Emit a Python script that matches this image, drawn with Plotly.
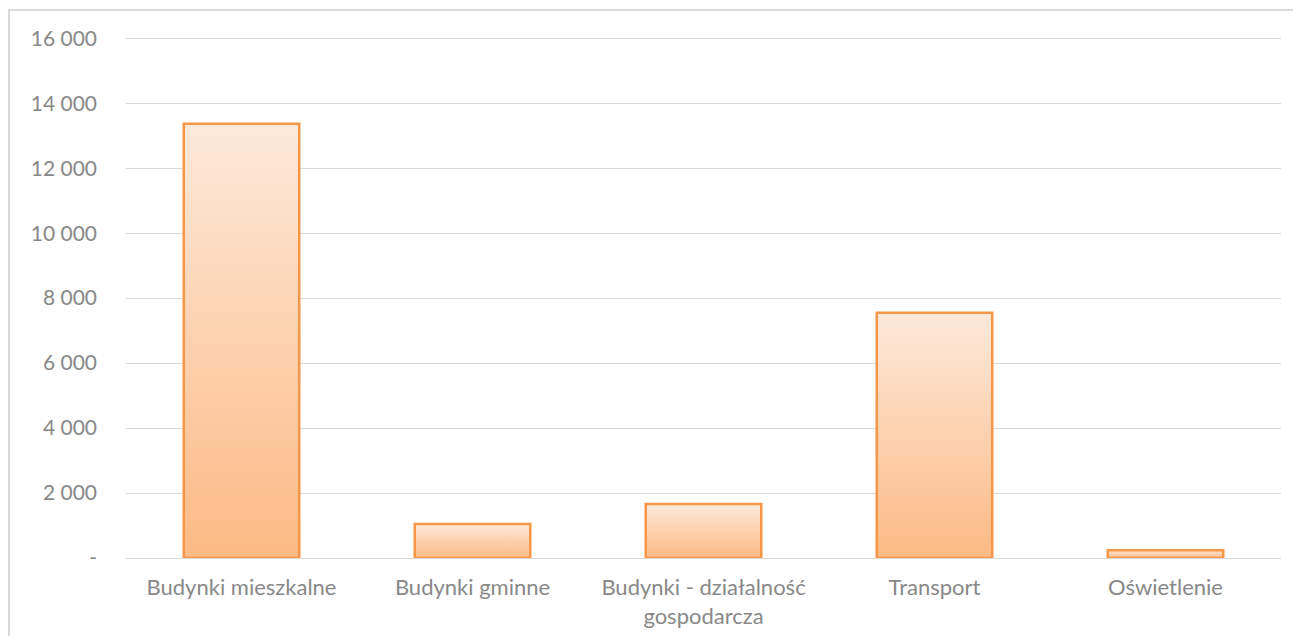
import plotly.graph_objects as go

categories = ["Budynki mieszkalne", "Budynki gminne", "Budynki - działalność<br>gospodarcza", "Transport", "Oświetlenie"]
values = [13370, 1050, 1660, 7550, 240]
tick_vals = [0, 2000, 4000, 6000, 8000, 10000, 12000, 14000, 16000]
tick_text = ["-", "2 000", "4 000", "6 000", "8 000", "10 000", "12 000", "14 000", "16 000"]

half_width = 0.25
fig = go.Figure()
for i, (cat, v) in enumerate(zip(categories, values)):
    xs = [i - half_width, i - half_width, i + half_width, i + half_width, i - half_width]
    ys = [0, v, v, 0, 0]
    fig.add_trace(go.Scatter(
        x=xs, y=ys, mode="lines", fill="toself",
        fillgradient=dict(type="vertical", colorscale=[[0, "#FCBA84"], [1, "#FDE9DA"]]),
        line=dict(color="#F79646", width=2.5),
        name=cat.replace("<br>", " "), showlegend=False,
        hoverinfo="text", text=cat.replace("<br>", " ") + f": {v}",
    ))

fig.update_layout(
    width=1285, height=628,
    margin=dict(l=118, r=12, t=27, b=78, autoexpand=False),
    paper_bgcolor="white", plot_bgcolor="white",
    font=dict(family="Lato", size=21, color="#888888"),
    xaxis=dict(
        range=[-0.5, len(categories) - 0.5],
        tickvals=list(range(len(categories))), ticktext=categories,
        showgrid=False, zeroline=False, showline=False, ticks="",
        ticklabelstandoff=14, automargin=False,
        tickfont=dict(family="Lato", size=22, color="#888888"),
    ),
    yaxis=dict(
        range=[0, 16100], tickvals=tick_vals, ticktext=tick_text,
        showgrid=True, gridcolor="#D9D9D9", gridwidth=1,
        zeroline=True, zerolinecolor="#D9D9D9", zerolinewidth=1,
        showline=False, ticks="", ticklabelstandoff=28, automargin=False,
        tickfont=dict(family="Lato", size=21, color="#888888"),
    ),
    shapes=[dict(
        type="rect", xref="paper", yref="paper",
        x0=-0.1013, x1=1.1, y0=-0.3, y1=1.0478,
        line=dict(color="#D9D9D9", width=2), fillcolor="rgba(0,0,0,0)", layer="below",
    )],
)

fig.write_html("out.html")
